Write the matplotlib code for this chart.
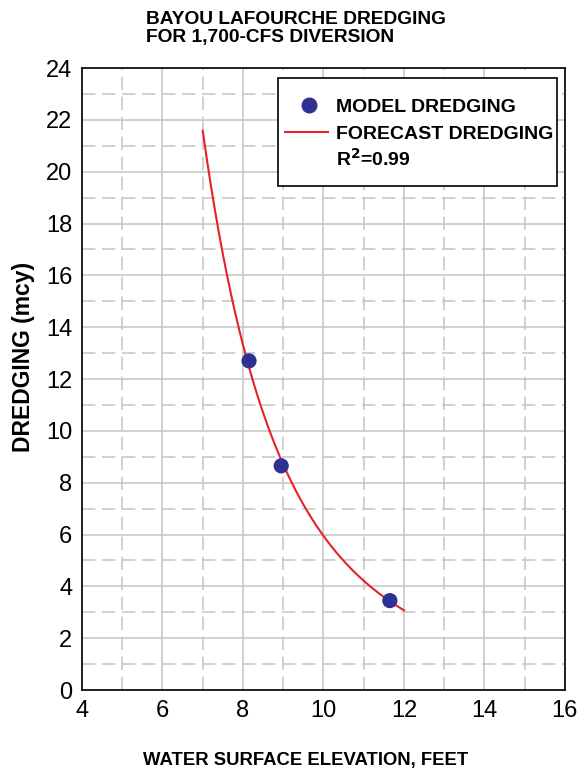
import numpy as np
import matplotlib
matplotlib.use("Agg")
import matplotlib.pyplot as plt
from matplotlib.patches import Rectangle

plt.rcParams['font.family'] = ['Liberation Sans', 'DejaVu Sans']

# Data
model_x = [8.15, 8.95, 11.65]
model_y = [12.7, 8.65, 3.45]
forecast_range = [7.0, 12.0]   # extent of the power-law trendline
r2_label = "0.99"

x_ticks = [4, 6, 8, 10, 12, 14, 16]
y_ticks = [0, 2, 4, 6, 8, 10, 12, 14, 16, 18, 20, 22, 24]

BLUE = '#2e3192'
RED = '#e8202a'

# Power-law trendline fitted to model points (as in the source chart)
b, lna = np.polyfit(np.log(model_x), np.log(model_y), 1)
fx = np.linspace(forecast_range[0], forecast_range[1], 200)
fy = np.exp(lna) * fx ** b

fig = plt.figure(figsize=(5.8, 7.71), dpi=100)
ax = fig.add_axes([0.1414, 0.105, 0.8326, 0.8068])

ax.set_xlim(4, 16)
ax.set_ylim(0, 24)
ax.set_xticks(x_ticks)
ax.set_yticks(y_ticks)
ax.set_xticks(np.arange(5, 16, 2), minor=True)
ax.set_yticks(np.arange(1, 24, 2), minor=True)
ax.grid(which='major', color='#c8c8c8', linewidth=1.2, linestyle='-')
ax.grid(which='minor', color='#c8c8c8', linewidth=1.2, linestyle=(0, (8, 4)))
ax.set_axisbelow(True)
ax.tick_params(which='both', length=0, labelsize=17, pad=7)
for s in ax.spines.values():
    s.set_color('black')
    s.set_linewidth(1.2)

ax.plot(fx, fy, color=RED, linewidth=1.5, zorder=3)
ax.scatter(model_x, model_y, s=120, color=BLUE, zorder=4, edgecolors='none')

ax.set_xlabel("WATER SURFACE ELEVATION, FEET", fontsize=13.3, fontweight='bold')
ax.xaxis.set_label_coords(0.464, -0.100)
ax.set_ylabel("DREDGING (mcy)", fontsize=16.5, fontweight='bold')
ax.yaxis.set_label_coords(-0.097, 0.535)

fig.text(146/580, 0.986, "BAYOU LAFOURCHE DREDGING\nFOR 1,700-CFS DIVERSION",
         ha='left', va='top', fontsize=13.8, fontweight='bold', linespacing=1.08)

# Legend box (drawn manually to match the reference layout)
ax.add_patch(Rectangle((0.4058, 0.8103), 0.5776, 0.1736, transform=ax.transAxes,
                       facecolor='white', edgecolor='black', linewidth=1.2, zorder=5))
ax.plot([0.470], [0.9405], transform=ax.transAxes, marker='o', markersize=10.5,
        color=BLUE, linestyle='none', zorder=6, clip_on=False)
ax.plot([0.4203, 0.5093], [0.8971, 0.8971], transform=ax.transAxes, color=RED,
        linewidth=1.5, zorder=6, clip_on=False)
leg_labels = ["MODEL DREDGING", "FORECAST DREDGING", r"R$^{\mathbf{2}}$=" + r2_label]
for lab, yy in zip(leg_labels, [0.9405, 0.8971, 0.8569]):
    ax.text(0.5259, yy, lab, transform=ax.transAxes, ha='left', va='center_baseline',
            fontsize=14, fontweight='bold', zorder=7)

fig.savefig("out.png", dpi=100)
